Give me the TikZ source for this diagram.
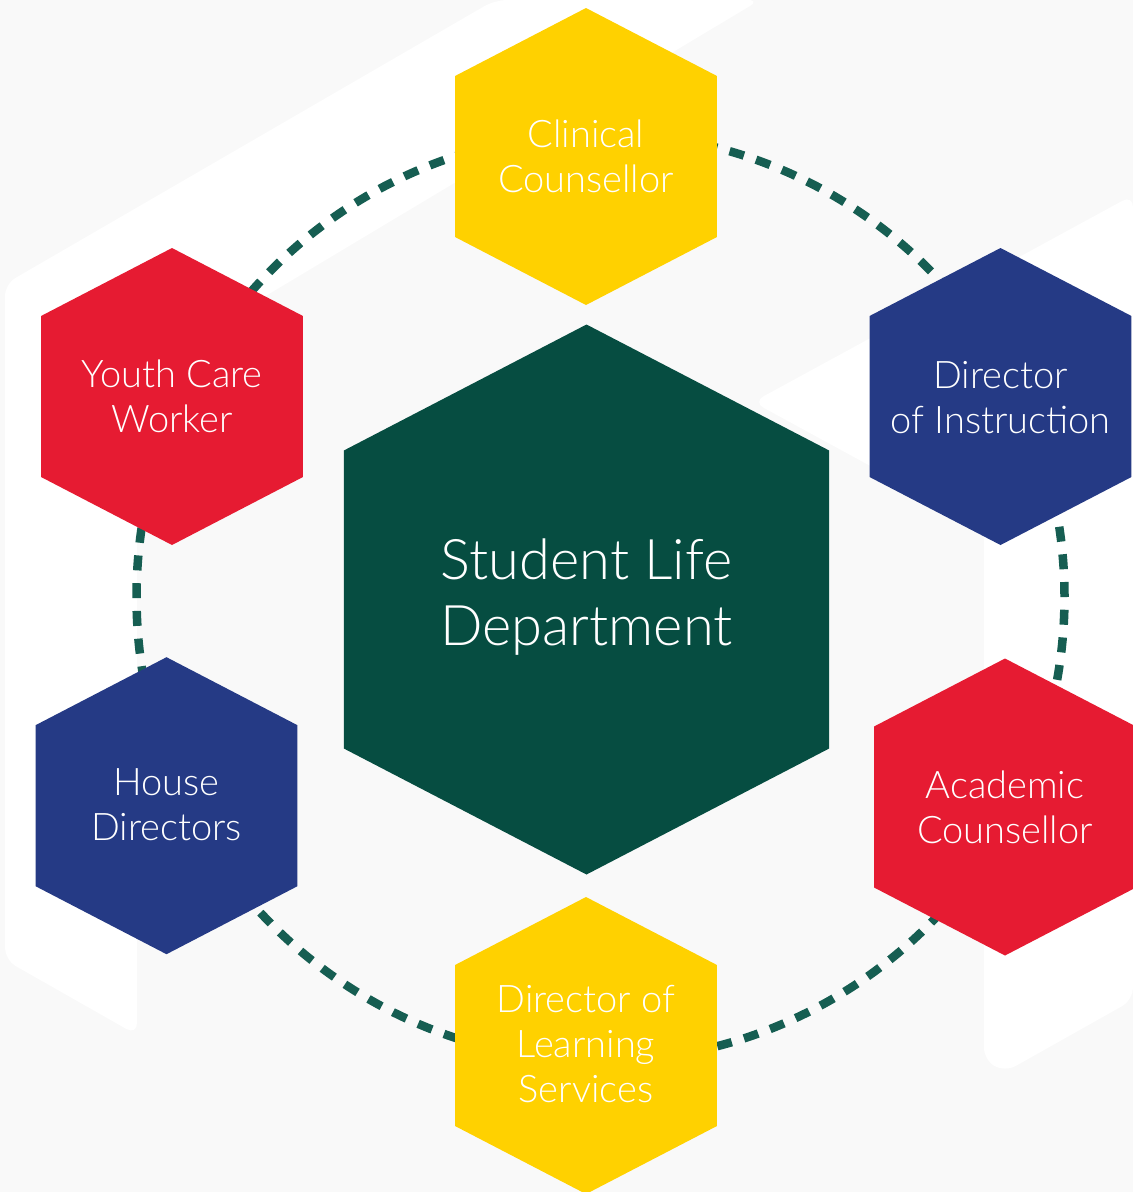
\documentclass[tikz,border=0pt]{standalone}
\usepackage{fontspec}
\setmainfont{Lato Light}
\definecolor{cyel}{RGB}{255,209,0}
\definecolor{cred}{RGB}{230,27,50}
\definecolor{cnavy}{RGB}{37,58,133}
\definecolor{cgreen}{RGB}{6,77,65}
\definecolor{cdash}{RGB}{22,94,82}
\definecolor{bggray}{RGB}{249,249,249}
\newcommand\hexfill[4]{%
  \fill[#4] (#1,{#2-#3}) -- ({#1+0.882*#3},{#2-0.542*#3}) -- ({#1+0.882*#3},{#2+0.542*#3})
    -- (#1,{#2+#3}) -- ({#1-0.882*#3},{#2+0.542*#3}) -- ({#1-0.882*#3},{#2-0.542*#3}) -- cycle;}
\begin{document}
\begin{tikzpicture}[x=1pt,y=-1pt,
  lbl/.style={text=white,align=center,inner sep=0pt,font=\fontsize{38}{45}\selectfont},
  biglbl/.style={text=white,align=center,inner sep=0pt,font=\fontsize{56}{66}\selectfont},
  ring/.style={draw=cdash,line width=8.5pt,dash pattern=on 15pt off 12.77pt}]
\useasboundingbox (0,0) rectangle (1133,1192);
% faint background
\fill[bggray] (0,0) rectangle (1133,1192);
\fill[white,rounded corners=12pt] (5,284) -- (495,0) -- (760,0) -- (137,373) -- (137,1035) -- (5,960) -- cycle;
\fill[white,rounded corners=12pt] (753,402) -- (1133,195) -- (1133,1000) -- (1005,1072) -- (984,1060) -- (984,528) -- cycle;
% dashed ring
\draw[ring] (600.5,597) circle[radius=464pt];
% hexagons
\hexfill{586.5}{599.5}{275}{cgreen}
\hexfill{586}{156.5}{148.5}{cyel}
\hexfill{172}{396.5}{148.5}{cred}
\hexfill{1000.5}{396.5}{148.5}{cnavy}
\hexfill{166.5}{805.7}{148.5}{cnavy}
\hexfill{1005}{807}{148.5}{cred}
\hexfill{586}{1045.5}{148.5}{cyel}
% labels
\node[biglbl] (sld) at (586.5,597) {Student Life\\Department};
\node[lbl] (cc) at (586,156) {Clinical\\Counsellor};
\node[lbl] (ycw) at (172,396) {Youth Care\\Worker};
\node[lbl] (doi) at (1000.5,398) {Director\\of Instruction};
\node[lbl] (hd) at (166.5,805) {House\\Directors};
\node[lbl] (ac) at (1005,807) {Academic\\Counsellor};
\node[lbl] (dls) at (586,1044) {Director of\\Learning\\Services};
\end{tikzpicture}
\end{document}
